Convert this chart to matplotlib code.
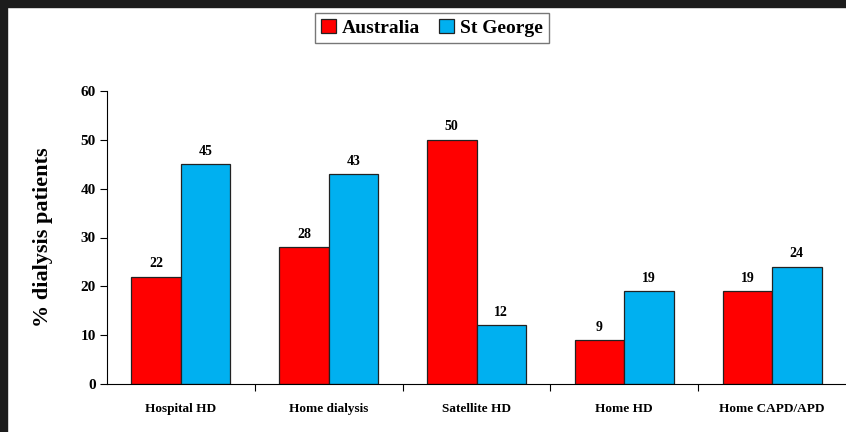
import matplotlib.pyplot as plt
from matplotlib.patches import Rectangle
from matplotlib.ticker import FixedLocator
import numpy as np

categories = ["Hospital HD", "Home dialysis", "Satellite HD", "Home HD", "Home CAPD/APD"]
australia = [22, 28, 50, 9, 19]
st_george = [45, 43, 12, 19, 24]
series_names = ["Australia", "St George"]
colors = ["#FF0000", "#00B0F0"]

plt.rcParams['font.family'] = ['Liberation Serif', 'DejaVu Serif']
plt.rcParams['font.weight'] = 'bold'

fig = plt.figure(figsize=(8.46, 4.32), dpi=100)
ax = fig.add_axes([107 / 846, 1 - 384 / 432, 1 - 107 / 846, (384 - 91) / 432])

x = np.arange(len(categories))
w = 0.335
b1 = ax.bar(x - w / 2, australia, w, color=colors[0], edgecolor="#222222", linewidth=0.9, label=series_names[0])
b2 = ax.bar(x + w / 2, st_george, w, color=colors[1], edgecolor="#222222", linewidth=0.9, label=series_names[1])

for bars, vals in [(b1, australia), (b2, st_george)]:
    for r, v in zip(bars, vals):
        ax.text(r.get_x() + r.get_width() / 2, v + 1.3, str(v), ha="center", va="bottom",
                fontsize=10, fontweight="bold")

ax.set_xlim(-0.5, len(categories) - 0.5)
ax.set_ylim(0, 60)
ax.set_yticks(range(0, 61, 10))
ax.tick_params(axis="y", labelsize=11, length=5, width=0.8, direction="out", pad=3)
ax.set_xticks(x)
ax.set_xticklabels(categories, fontsize=9.5, fontweight="bold")
ax.tick_params(axis="x", which="major", length=0, pad=14)
ax.xaxis.set_minor_locator(FixedLocator(np.arange(0.5, len(categories) - 1, 1)))
ax.tick_params(axis="x", which="minor", length=5, width=0.8, direction="out")

ax.spines["top"].set_visible(False)
ax.spines["right"].set_visible(False)
ax.set_ylabel("% dialysis patients", fontsize=16, fontweight="bold", labelpad=20)

leg = fig.legend(loc="center", bbox_to_anchor=(432 / 846, 1 - 28 / 432), ncol=2, frameon=True,
                 fancybox=False, edgecolor="#555555", fontsize=14, handlelength=0.75,
                 handleheight=0.75, handletextpad=0.3, columnspacing=1.0, borderpad=0.3)
leg.get_frame().set_linewidth(1.0)
for t in leg.get_texts():
    t.set_fontweight("bold")

# dark frame along the top and left edges
fig.patches.append(Rectangle((0, 1 - 7 / 432), 1, 7 / 432, transform=fig.transFigure,
                             color="#1c1c1c", zorder=10))
fig.patches.append(Rectangle((0, 0), 7 / 846, 1, transform=fig.transFigure,
                             color="#1c1c1c", zorder=10))

fig.savefig("out.png", dpi=100)
